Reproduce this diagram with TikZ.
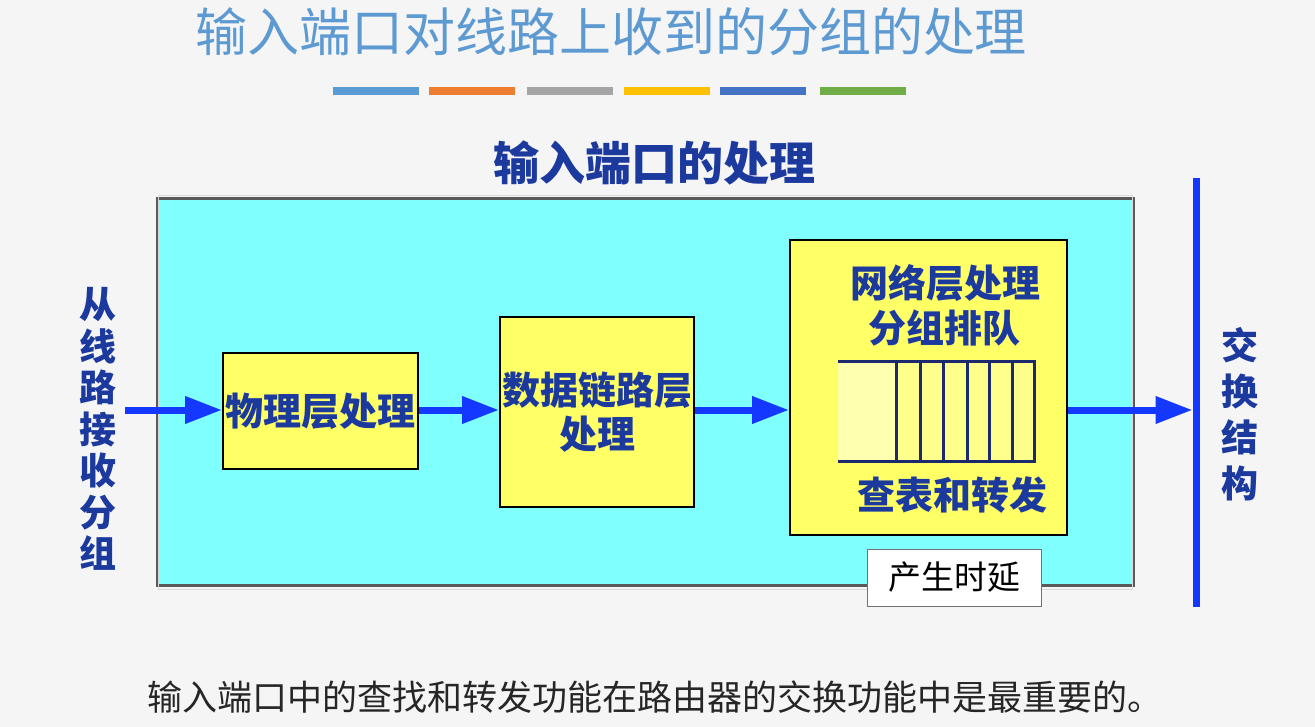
\documentclass[tikz,border=0pt]{standalone}
\usepackage{fontspec}
\newfontfamily\cjk{Noto Sans CJK SC}
\usetikzlibrary{arrows.meta}
\definecolor{bgc}{HTML}{F5F5F5}
\definecolor{titleblue}{HTML}{5E9AD2}
\definecolor{txtblue}{HTML}{1C3A9E}
\definecolor{arrowblue}{HTML}{1438FF}
\definecolor{cyanfill}{HTML}{80FFFF}
\definecolor{boxyellow}{HTML}{FFFF66}
\definecolor{qlight}{HTML}{FFFFB0}
\definecolor{qcell}{HTML}{FFFF8C}
\definecolor{navy}{HTML}{1A2A6C}
\definecolor{bar1}{HTML}{5B9BD5}
\definecolor{bar2}{HTML}{ED7D31}
\definecolor{bar3}{HTML}{A5A5A5}
\definecolor{bar4}{HTML}{FFC000}
\definecolor{bar5}{HTML}{4472C4}
\definecolor{bar6}{HTML}{70AD47}
\tikzset{
  ybox/.style={draw=black, line width=2pt, fill=boxyellow, inner sep=0pt, align=center,
    font=\cjk\bfseries\fontsize{38}{44}\selectfont, text=txtblue},
  bluetxt/.style={font=\cjk\bfseries\fontsize{36}{45}\selectfont, text=txtblue, align=center, inner sep=0pt},
  flow/.style={draw=arrowblue, line width=7pt, -{Triangle[length=37pt,width=26pt]}},
  bar/.style={line width=8pt},
}
\begin{document}
\begin{tikzpicture}[x=1pt,y=-1pt]
\useasboundingbox (0,0) rectangle (1315,727);
\fill[bgc] (0,0) rectangle (1315,727);
% title
\node[font=\cjk\fontsize{52}{56}\selectfont, text=titleblue, inner sep=0pt] (title) at (611,32) {输入端口对线路上收到的分组的处理};
% colour bars
\draw[bar, bar1] (333,91) -- (419,91);
\draw[bar, bar2] (429,91) -- (515,91);
\draw[bar, bar3] (527,91) -- (613,91);
\draw[bar, bar4] (624,91) -- (710,91);
\draw[bar, bar5] (720,91) -- (806,91);
\draw[bar, bar6] (820,91) -- (906,91);
% subtitle
\node[font=\cjk\bfseries\fontsize{46}{50}\selectfont, text=txtblue, inner sep=0pt] (sub) at (654,163) {输入端口的处理};
% cyan container
\node[draw=black!65, line width=3pt, fill=cyanfill, minimum width=976pt, minimum height=386pt, inner sep=0pt] (port) at (645,392) {};
\draw[white!70!gray, line width=0.8pt] ([shift={(2.5,-2.5)}]port.north west) rectangle ([shift={(-2.5,2.5)}]port.south east);
% boxes
\node[ybox, minimum width=195pt, minimum height=116pt] (b1) at (320.5,411) {物理层处理};
\node[ybox, minimum width=194pt, minimum height=190pt] (b2) at (597,412) {数据链路层\\处理};
\node[ybox, minimum width=277pt, minimum height=295pt] (b3) at (928.5,387.5) {};
\node[bluetxt, font=\cjk\bfseries\fontsize{38}{45}\selectfont] (t31) at (945,283) {网络层处理};
\node[bluetxt, font=\cjk\bfseries\fontsize{38}{45}\selectfont] (t32) at (944,328) {分组排队};
\node[bluetxt, font=\cjk\bfseries\fontsize{38}{45}\selectfont] (t33) at (952,495) {查表和转发};
% queue
\fill[qlight] (838,362) rectangle (896,461);
\fill[qcell] (896,362) rectangle (1034,461);
\draw[navy, line width=3pt] (838,362) -- (1035.5,362);
\draw[navy, line width=3pt] (838,461) -- (1035.5,461);
\foreach \x in {896,920,943,967,989,1012,1034}
  \draw[navy, line width=3pt] (\x,362) -- (\x,461);
% delay box
\node[draw=black!55, line width=1pt, fill=white, minimum width=174pt, minimum height=57pt, inner sep=0pt,
  font=\cjk\fontsize{33}{36}\selectfont] (delay) at (954,577.5) {产生时延};
% switch fabric line
\coordinate (sw1) at (1196,178);
\coordinate (sw2) at (1196,607);
\coordinate (swm) at (1196,410);
\draw[arrowblue, line width=7pt] (sw1) -- (sw2);
% arrows
\coordinate (in) at (125,410);
\draw[flow] (in) -- (in -| b1.west);
\draw[flow] (b1.east |- in) -- (b2.west |- in);
\draw[flow] (b2.east |- in) -- (b3.west |- in);
\draw[flow] (b3.east |- in) -- ([xshift=-3.5pt]swm);
% side texts
\node[bluetxt, font=\cjk\bfseries\fontsize{37}{41.5}\selectfont] (left) at (98,429) {从\\线\\路\\接\\收\\分\\组};
\node[bluetxt, font=\cjk\bfseries\fontsize{37}{46}\selectfont] (right) at (1240,414) {交\\换\\结\\构};
% bottom sentence
\node[font=\cjk\fontsize{35}{38}\selectfont, text=black!85, inner sep=0pt] (note) at (655,697) {输入端口中的查找和转发功能在路由器的交换功能中是最重要的。};
\end{tikzpicture}
\end{document}
